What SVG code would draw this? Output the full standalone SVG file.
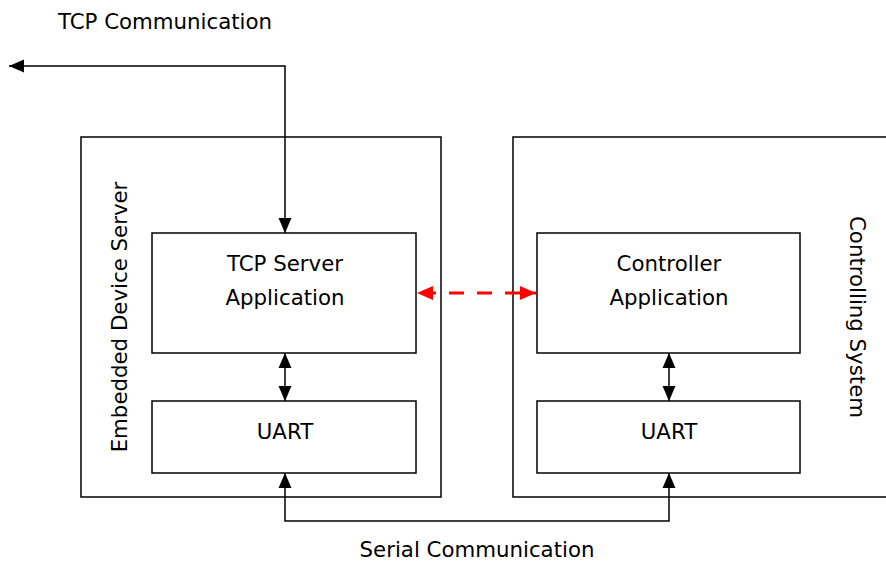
<svg xmlns="http://www.w3.org/2000/svg" width="886" height="561" viewBox="0 0 886 561">
<defs>
<marker id="ah" markerWidth="15" markerHeight="14" refX="15" refY="7" orient="auto-start-reverse" markerUnits="userSpaceOnUse">
<path d="M0,0.5 L15,7 L0,13.5 Z" fill="#000"/>
</marker>
<marker id="ahr" markerWidth="16" markerHeight="14" refX="16" refY="7" orient="auto-start-reverse" markerUnits="userSpaceOnUse">
<path d="M0,0 L16,7 L0,14 Z" fill="#f00"/>
</marker>
</defs>
<style>
.box{fill:#fff;stroke:#000;stroke-width:1.5}
.t{font-family:"DejaVu Sans",Verdana,sans-serif;font-size:21.3px;fill:#000;text-anchor:middle;dominant-baseline:central}
.c{fill:none;stroke:#000;stroke-width:1.5}
</style>
<rect width="886" height="561" fill="#fff"/>
<g id="embedded-device-server">
<rect class="box" x="81" y="137" width="360" height="360"/>
<text class="t" transform="translate(119,317) rotate(-90)">Embedded Device Server</text>
</g>
<g id="controlling-system">
<rect class="box" x="513" y="137" width="390" height="360"/>
<text class="t" transform="translate(857,317) rotate(90)">Controlling System</text>
</g>
<g id="tcp-server">
<rect class="box" x="152" y="233" width="264" height="120"/>
<text class="t" x="285" y="263">TCP Server</text>
<text class="t" x="285" y="297">Application</text>
</g>
<g id="uart-left">
<rect class="box" x="152" y="401" width="264" height="72"/>
<text class="t" x="285" y="431">UART</text>
</g>
<g id="controller">
<rect class="box" x="537" y="233" width="263" height="120"/>
<text class="t" x="669" y="263">Controller</text>
<text class="t" x="669" y="297">Application</text>
</g>
<g id="uart-right">
<rect class="box" x="537" y="401" width="263" height="72"/>
<text class="t" x="669" y="431">UART</text>
</g>
<g id="labels">
<text class="t" x="165" y="21">TCP Communication</text>
<text class="t" x="477" y="549">Serial Communication</text>
</g>
<g id="connectors">
<path class="c" d="M285,233 L285,66 L9,66" marker-start="url(#ah)" marker-end="url(#ah)"/>
<path class="c" d="M285,353 L285,401" marker-start="url(#ah)" marker-end="url(#ah)"/>
<path class="c" d="M669,353 L669,401" marker-start="url(#ah)" marker-end="url(#ah)"/>
<path class="c" d="M285,473 L285,521 L669,521 L669,473" marker-start="url(#ah)" marker-end="url(#ah)"/>
<path d="M417,293 L536,293" fill="none" stroke="#f00" stroke-width="3" stroke-dasharray="15,13" stroke-dashoffset="-4" marker-start="url(#ahr)" marker-end="url(#ahr)"/>
</g>
</svg>
